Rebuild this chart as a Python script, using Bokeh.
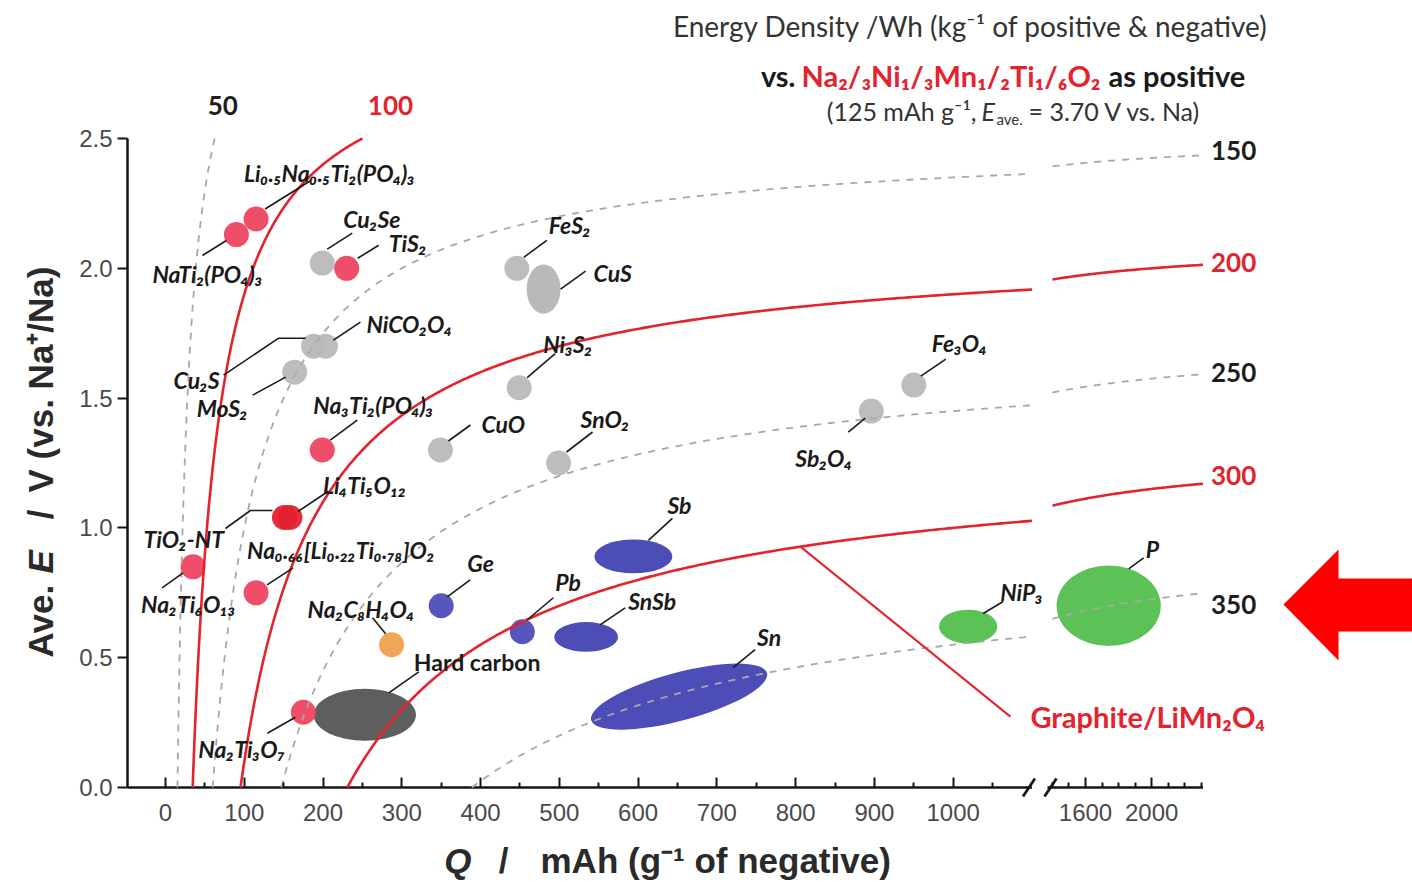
import numpy as np
from bokeh.plotting import figure
from bokeh.models import FixedTicker
from bokeh.core.properties import value
from bokeh.embed import file_html
from bokeh.resources import INLINE

W, H = 1412, 882

# ---------------------------------------------------------------------------
# Positive electrode every iso-energy line is computed against
POS_CAPACITY = 125.0     # mAh per g of positive
POS_VOLTAGE = 3.70       # average V vs. Na
energy_levels = [50, 100, 150, 200, 250, 300, 350]          # Wh per kg (pos. + neg.)
energy_highlight = [False, True, False, True, False, True, False]

# Negative electrodes shown as dots: capacity (mAh/g) and average voltage (V)
dot_names = ["Li₀.₅Na₀.₅Ti₂(PO₄)₃", "NaTi₂(PO₄)₃", "TiS₂", "Na₃Ti₂(PO₄)₃", "TiO₂-NT",
             "Li₄Ti₅O₁₂", "Na₂Ti₆O₁₃", "Na₀.₆₆[Li₀.₂₂Ti₀.₇₈]O₂", "Na₂Ti₃O₇",
             "Cu₂Se", "Cu₂S", "NiCO₂O₄", "MoS₂", "FeS₂", "Ni₃S₂", "CuO", "SnO₂",
             "Sb₂O₄", "Fe₃O₄", "Ge", "Pb", "Na₂C₈H₄O₄"]
dot_q = [115, 90, 230, 199, 151, 158, 35, 115, 175,
         199, 188, 203, 164, 446, 449, 349, 499, 896, 950, 350, 453, 287]
dot_v = [2.19, 2.13, 2.00, 1.30, 1.04, 1.04, 0.85, 0.75, 0.29,
         2.02, 1.70, 1.70, 1.60, 2.00, 1.54, 1.30, 1.25, 1.45, 1.55, 0.70, 0.60, 0.55]
dot_kind = ["titanate", "titanate", "titanate", "titanate", "titanate_lt",
            "titanate_lt", "titanate", "titanate", "titanate",
            "conversion", "conversion", "conversion", "conversion", "conversion",
            "conversion", "conversion", "conversion", "conversion", "conversion",
            "alloy", "alloy", "organic"]

# Negative electrodes shown as ranges: centre, spread in capacity / voltage, tilt
oval_names = ["CuS", "Sb", "SnSb", "Sn", "NiP₃", "P", "Hard carbon"]
oval_q = [480, 594, 534, 652, 1019, 1740, 253]
oval_v = [1.92, 0.89, 0.58, 0.35, 0.62, 0.70, 0.28]
oval_dq = [43, 99, 81, 231, 74, 630, 130]
oval_dv = [0.19, 0.13, 0.115, 0.185, 0.13, 0.31, 0.20]
oval_tilt = [0, 0, 0, 15, 0, 0, 0]
oval_kind = ["conversion", "alloy", "alloy", "alloy", "phosphide", "phosphide", "carbon"]

# Reference full cell marked on the 300 Wh/kg line
graphite_cell_q = 806

x_major_values = [0, 100, 200, 300, 400, 500, 600, 700, 800, 900, 1000, 1600, 2000]
y_major_values = [0.0, 0.5, 1.0, 1.5, 2.0, 2.5]

# ---------------------------------------------------------------------------
# Broken capacity axis: linear up to the break, compressed beyond it
BREAK_LEFT = 1100
BREAK_RIGHT = 1370
CURVE_RIGHT_START = 1400
Q_END = 2310
RIGHT_ANCHOR_Q, RIGHT_ANCHOR_X, RIGHT_SCALE = 1600, 1168.0, 0.21


def xmap(q):
    q = np.asarray(q, dtype=float)
    return np.where(q <= BREAK_LEFT, q, RIGHT_ANCHOR_X + RIGHT_SCALE * (q - RIGHT_ANCHOR_Q))


def xwidth(q, dq):
    q = np.asarray(q, dtype=float)
    return np.where(q <= BREAK_LEFT, dq, np.asarray(dq, dtype=float) * RIGHT_SCALE)


def cell_line(e, q):
    """Negative-electrode voltage giving energy e for a cell built on the positive."""
    return POS_VOLTAGE - e * (POS_CAPACITY + q) / (POS_CAPACITY * q)


# Frame geometry (screen px)
PX_ZERO_Q, PX_PER_Q = 165.0, 0.7877
PX_ZERO_V, PX_PER_V = 787.0, 259.6
X_LO, X_HI = -PX_ZERO_Q / PX_PER_Q, (W - PX_ZERO_Q) / PX_PER_Q
Y_LO, Y_HI = (PX_ZERO_V - H) / PX_PER_V, PX_ZERO_V / PX_PER_V
X_AXIS = (127 - PX_ZERO_Q) / PX_PER_Q
V_TOP = 2.5


def sx(px):      # screen x -> data x
    return X_LO + px / PX_PER_Q


def sy(py):      # screen y -> data y
    return Y_HI - py / PX_PER_V


def shift(x, y, dx, dy):   # move a data point by a screen offset
    return x + dx / PX_PER_Q, y - dy / PX_PER_V


p = figure(width=W, height=H, x_range=(X_LO, X_HI), y_range=(Y_LO, Y_HI),
           output_backend="svg", toolbar_location=None, min_border=0,
           background_fill_color="white", border_fill_color="white")
p.outline_line_color = None
p.xgrid.visible = False
p.ygrid.visible = False

AXIS_COLOR = "#151515"
TICK_FONT = "Liberation Sans"

xa = p.xaxis[0]
xa.fixed_location = 0
xa.ticker = FixedTicker(
    ticks=[float(v) for v in xmap(x_major_values)],
    minor_ticks=[float(v) for v in xmap(list(range(50, 1100, 100)))]
    + [float(v) for v in xmap([q for q in range(1400, 2400, 100) if q not in (1600, 2000)])])
xa.major_label_overrides = {float(xmap(q)): str(q) for q in x_major_values}
xa.axis_line_color = None
xa.major_tick_in, xa.major_tick_out = 10, 0
xa.minor_tick_in, xa.minor_tick_out = 5, 0
xa.major_tick_line_width = xa.minor_tick_line_width = 2
xa.major_tick_line_color = xa.minor_tick_line_color = AXIS_COLOR
xa.major_label_standoff = 16
xa.major_label_text_font = TICK_FONT
xa.major_label_text_font_size = "24px"
xa.major_label_text_color = "#4a4a4a"

ya = p.yaxis[0]
ya.fixed_location = X_AXIS
ya.bounds = (0, V_TOP)
ya.ticker = FixedTicker(ticks=y_major_values, minor_ticks=[])
ya.major_label_overrides = {v: f"{v:.1f}" for v in y_major_values}
ya.axis_line_width = 2.5
ya.axis_line_color = AXIS_COLOR
ya.major_tick_in, ya.major_tick_out = 0, 10
ya.major_tick_line_width = 2
ya.major_tick_line_color = AXIS_COLOR
ya.major_label_standoff = 5
ya.major_label_text_font = TICK_FONT
ya.major_label_text_font_size = "24px"
ya.major_label_text_color = "#4a4a4a"

# capacity axis line with its break
left_end = float(xmap(BREAK_LEFT))
right_start = float(xmap(BREAK_RIGHT))
right_end = float(xmap(Q_END))
p.segment(x0=[X_AXIS, right_start], y0=[0, 0], x1=[left_end, right_end], y1=[0, 0],
          line_color=AXIS_COLOR, line_width=2.5)
slash_x = [shift(left_end, 0, -3, 0)[0], shift(right_start, 0, 3, 0)[0]]
p.segment(x0=[shift(x, 0, -6, 9)[0] for x in slash_x], y0=[shift(0, 0, 0, 9)[1]] * 2,
          x1=[shift(x, 0, 6, -9)[0] for x in slash_x], y1=[shift(0, 0, 0, -9)[1]] * 2,
          line_color=AXIS_COLOR, line_width=2.8)

# ---------------------------------------------------------------------------
# Markers
KIND_COLOR = {"titanate": "#ee4560", "titanate_lt": "#e3222e", "conversion": "#b9b9b9",
              "alloy": "#4d4db8", "organic": "#f0a04e", "phosphide": "#5cc257",
              "carbon": "#5e5e5e"}

p.ellipse(x=xmap(oval_q), y=oval_v, width=xwidth(oval_q, oval_dq), height=oval_dv,
          angle=np.radians(oval_tilt), fill_color=[KIND_COLOR[k] for k in oval_kind],
          line_color=None)
p.scatter(x=xmap(dot_q), y=dot_v, size=25, fill_color=[KIND_COLOR[k] for k in dot_kind],
          line_color=None, fill_alpha=0.95)

# ---------------------------------------------------------------------------
# Iso-energy lines
RED = "#e3232e"
GREY_DASH = "#a8a8a8"
level_label_shift = {50: (8, -33), 100: (28, -33), 150: (8, -5), 200: (8, -2),
                     250: (8, -2), 300: (8, -8), 350: (8, 11)}
for e, hot in zip(energy_levels, energy_highlight):
    q0 = e * POS_CAPACITY / (POS_VOLTAGE * POS_CAPACITY - e)
    denom = (POS_VOLTAGE - V_TOP) * POS_CAPACITY - e
    q_top = e * POS_CAPACITY / denom if denom > 0 else np.inf
    style = dict(line_color=RED, line_width=2.6) if hot else \
        dict(line_color=GREY_DASH, line_width=1.8, line_dash="7 7")
    qs = np.geomspace(q0, min(q_top, BREAK_LEFT), 400)
    p.line(xmap(qs), cell_line(e, qs), **style)
    if q_top > CURVE_RIGHT_START:
        qs = np.linspace(CURVE_RIGHT_START, min(q_top, Q_END), 100)
        p.line(xmap(qs), cell_line(e, qs), **style)
    dx, dy = level_label_shift[e]
    if np.isfinite(q_top) and q_top < BREAK_LEFT:
        lx, ly = shift(float(xmap(q_top)), V_TOP, dx, dy)
        align = "center"
    else:
        lx, ly = shift(float(xmap(Q_END)), float(cell_line(e, Q_END)), dx, dy)
        align = "left"
    p.text(x=[lx], y=[ly], text=[str(e)], text_font=value("Lato"), text_font_style="bold",
           text_font_size="26px", text_color=RED if hot else "#1e1e1e",
           text_align=align, text_baseline="middle")

# ---------------------------------------------------------------------------
# Call-outs: label offset and leader polyline, in screen px from the marker centre
callouts = [
    ("Li₀.₅Na₀.₅Ti₂(PO₄)₃", -12, -46, [(9, -10), (54, -38)]),
    ("NaTi₂(PO₄)₃", -84, 39, [(-34, 21), (-10, 6)]),
    ("TiS₂", 42, -25, [(11, -10), (32, -23)]),
    ("Na₃Ti₂(PO₄)₃", -9, -45, [(8, -10), (35, -30)]),
    ("TiO₂-NT", -141, 21, [(-59, 11), (-34, -7), (-12, -7)]),
    ("Li₄Ti₅O₁₂", 33, -33, [(8, -6), (38, -26)]),
    ("Na₂Ti₆O₁₃", -52, 37, [(-31, 21), (-10, 6)]),
    ("Na₀.₆₆[Li₀.₂₂Ti₀.₇₈]O₂", -9, -43, [(11, -8), (37, -25)]),
    ("Na₂Ti₃O₇", -105, 37, [(-36, 21), (-8, 5)]),
    ("Cu₂Se", 21, -44, [(5, -14), (30, -30)]),
    ("Cu₂S", -140, 34, [(-90, 29), (-35, -8), (-8, -8)]),
    ("NiCO₂O₄", 41, -22, [(8, -6), (35, -24)]),
    ("MoS₂", -98, 36, [(-42, 23), (-9, 5)]),
    ("FeS₂", 32, -43, [(7, -11), (30, -28)]),
    ("CuS", 50, -16, [(17, 0), (42, -18)]),
    ("Ni₃S₂", 24, -44, [(8, -10), (36, -34)]),
    ("CuO", 41, -26, [(8, -9), (30, -25)]),
    ("SnO₂", 22, -44, [(8, -11), (34, -31)]),
    ("Sb₂O₄", -76, 47, [(-23, 21), (-6, 7)]),
    ("Fe₃O₄", 18, -42, [(7, -9), (32, -26)]),
    ("Sb", 34, -51, [(15, -16), (39, -38)]),
    ("Ge", 26, -43, [(6, -9), (29, -26)]),
    ("Pb", 33, -50, [(5, -12), (31, -34)]),
    ("SnSb", 42, -36, [(14, -12), (39, -29)]),
    ("Sn", 78, -60, [(54, -29), (76, -47)]),
    ("NiP₃", 32, -35, [(15, -13), (35, -25)]),
    ("P", 37, -57, [(20, -37), (35, -48)]),
    ("Na₂C₈H₄O₄", -84, -36, [(-19, -27), (-6, -11)]),
    ("Hard carbon", 49, -53, [(24, -22), (54, -43)]),
]
centres = {n: (float(xmap(q)), v) for n, q, v in zip(dot_names, dot_q, dot_v)}
centres.update({n: (float(xmap(q)), v) for n, q, v in zip(oval_names, oval_q, oval_v)})

lead_xs, lead_ys = [], []
lab = {"italic": ([], [], []), "plain": ([], [], [])}
for name, dx, dy, leader in callouts:
    cx, cy = centres[name]
    pts = [shift(cx, cy, a, b) for a, b in leader]
    lead_xs.append([pt[0] for pt in pts])
    lead_ys.append([pt[1] for pt in pts])
    tx, ty = shift(cx, cy, dx, dy)
    bucket = lab["plain" if name == "Hard carbon" else "italic"]
    bucket[0].append(tx)
    bucket[1].append(ty)
    bucket[2].append(name)

# Graphite/LiMn2O4 pointer from the 300 Wh/kg line
gx, gy = graphite_cell_q, float(cell_line(300, graphite_cell_q))
g_end = shift(gx, gy, 210, 170)
p.line(x=[gx, g_end[0]], y=[gy, g_end[1]], line_color=RED, line_width=2)

p.multi_line(xs=lead_xs, ys=lead_ys, line_color="#1a1a1a", line_width=1.6)

LABEL_FONT = value("Lato")
p.text(x=lab["italic"][0], y=lab["italic"][1], text=lab["italic"][2], text_font=LABEL_FONT,
       text_font_style="bold italic", text_font_size="23px", text_color="#1a1a1a",
       text_align="left", text_baseline="middle")
p.text(x=lab["plain"][0], y=lab["plain"][1], text=lab["plain"][2], text_font=LABEL_FONT,
       text_font_style="bold", text_font_size="23px", text_color="#1a1a1a",
       text_align="left", text_baseline="middle")
gl = shift(gx, gy, 230, 170)
p.text(x=[gl[0]], y=[gl[1]], text=["Graphite/LiMn₂O₄"], text_font=LABEL_FONT,
       text_font_style="bold", text_font_size="29px", text_color=RED,
       text_align="left", text_baseline="middle")


# ---------------------------------------------------------------------------
# Headings and axis titles (screen-placed text)
def put(px, py, txt, size, style="normal", color="#262626", align="left",
        font="Lato", angle=0.0):
    p.text(x=[sx(px)], y=[sy(py)], text=[txt], text_font=value(font),
           text_font_style=style, text_font_size=f"{size}px", text_color=color,
           text_align=align, text_baseline="middle", angle=angle)


put(1268, 25, "Energy Density /Wh (kg⁻¹ of positive & negative)", 28, align="right",
    color="#333333")
put(795, 75, "vs.", 29, style="bold", align="right", color="#1a1a1a")
put(801, 75, "Na₂/₃Ni₁/₃Mn₁/₂Ti₁/₆O₂", 29, style="bold", color=RED)
put(1108, 75, "as positive", 29, style="bold", color="#1a1a1a")
put(976, 110, "(125 mAh g⁻¹,", 25, align="right", color="#333333")
put(981, 110, "E", 25, style="italic", color="#333333")
put(996, 118, "ave.", 15, color="#333333")
put(1028, 110, "= 3.70 V vs. Na)", 25, color="#333333")

TITLE_FONT = "Liberation Sans"
put(471, 860, "Q", 35, style="bold italic", align="right", font=TITLE_FONT, color="#2a2a2a")
put(503, 860, "/", 35, style="bold", align="center", font=TITLE_FONT, color="#2a2a2a")
put(540, 860, "mAh (g⁻¹ of negative)", 35, style="bold", font=TITLE_FONT, color="#2a2a2a")

up = np.pi / 2
put(40, 657, "Ave.", 35, style="bold", font=TITLE_FONT, color="#2a2a2a", angle=up)
put(40, 573, "E", 35, style="bold italic", font=TITLE_FONT, color="#2a2a2a", angle=up)
put(40, 514, "/", 35, style="bold", align="center", font=TITLE_FONT, color="#2a2a2a",
    angle=up)
put(40, 492, "V (vs. Na⁺/Na)", 35, style="bold", font=TITLE_FONT, color="#2a2a2a",
    angle=up)

# Red pointer arrow at the right margin
arrow_px = [(1283, 604), (1338, 549), (1338, 578), (1412, 578), (1412, 631),
            (1338, 631), (1338, 660)]
p.patch(x=[sx(a) for a, _ in arrow_px], y=[sy(b) for _, b in arrow_px],
        fill_color="#ff0000", line_color=None)

open("out.html", "w").write(file_html(p, INLINE))
